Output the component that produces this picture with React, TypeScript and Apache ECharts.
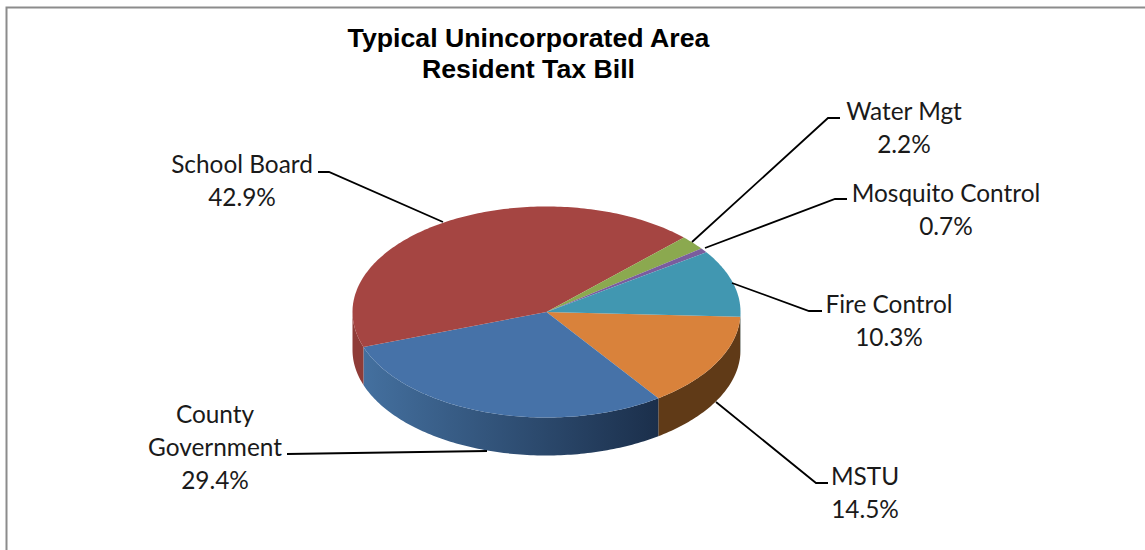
import React, { useEffect, useRef } from "react";
import * as echarts from "echarts";

const titleLines = ["Typical Unincorporated Area", "Resident Tax Bill"];
const categories = ["MSTU", "County Government", "School Board", "Water Mgt", "Mosquito Control", "Fire Control"];
const labelTexts = ["MSTU", "County\nGovernment", "School Board", "Water Mgt", "Mosquito Control", "Fire Control"];
const shares = [14.5, 29.4, 42.9, 2.2, 0.7, 10.3];

const topColors = ["#D9823B", "#4672A8", "#A54542", "#8BA94F", "#7A5D9E", "#4197B1"];
const sideStops = [
  ["#603A17", "#603A17"],
  ["#44709F", "#1B2F4B"],
  ["#8F3C38", "#8F3C38"],
  ["#5F7333", "#5F7333"],
  ["#533F6D", "#533F6D"],
  ["#2B6779", "#2B6779"],
];

const PIE = { cx: 546.5, cy: 312, rx: 194, ry: 105.5, depth: 38, startDeg: 2.6 };
const labelCentres = [[865, 492], [215, 446], [242, 180], [904, 127], [946, 209], [889, 320]];
const leaderLines = [
  [[828, 483], [816, 483], [716, 402]],
  [[287, 454], [487, 451]],
  [[318, 172], [329, 172], [443, 222]],
  [[840, 118], [828, 118], [692, 242]],
  [[847, 199], [835, 199], [705, 248]],
  [[822, 311], [809, 311], [732, 283]],
];
const FONT = "Lato";

const rimPoint = (deg: number, drop = 0) => {
  const t = (deg * Math.PI) / 180;
  return [PIE.cx + PIE.rx * Math.cos(t), PIE.cy + PIE.ry * Math.sin(t) + drop];
};
const arcPoints = (a: number, b: number, drop = 0) => {
  const pts: number[][] = [];
  const n = Math.max(2, Math.ceil(Math.abs(b - a)));
  for (let i = 0; i <= n; i++) pts.push(rimPoint(a + ((b - a) * i) / n, drop));
  return pts;
};
const sliceRange = (i: number) => {
  const total = shares.reduce((s, v) => s + v, 0);
  const before = shares.slice(0, i).reduce((s, v) => s + v, 0);
  const start = PIE.startDeg + (before / total) * 360;
  return [start, start + (shares[i] / total) * 360];
};

const renderSlice = (params: any) => {
  const i = params.dataIndex;
  const [start, end] = sliceRange(i);
  const children: any[] = [];
  [[0, 180], [360, 540]].forEach(([lo, hi]) => {
    const a = Math.max(start, lo);
    const b = Math.min(end, hi);
    if (b > a) {
      children.push({
        type: "polygon",
        shape: { points: [...arcPoints(a, b), ...arcPoints(b, a, PIE.depth)] },
        style: {
          fill: {
            type: "linear", x: 0, y: 0, x2: 1, y2: 0,
            colorStops: [
              { offset: 0, color: sideStops[i][0] },
              { offset: 1, color: sideStops[i][1] },
            ],
          },
        },
      });
    }
  });
  children.push({
    type: "polygon",
    shape: { points: [[PIE.cx, PIE.cy], ...arcPoints(start, end)] },
    style: { fill: topColors[i] },
  });
  return { type: "group", children };
};

const renderLabel = (params: any, api: any) => {
  const i = params.dataIndex;
  return {
    type: "group",
    children: [
      {
        type: "polyline",
        shape: { points: leaderLines[i] },
        style: { stroke: "#000", lineWidth: 1.8, fill: "none" },
      },
      {
        type: "text",
        x: labelCentres[i][0],
        y: labelCentres[i][1],
        style: {
          text: `${labelTexts[i]}\n${api.value(0).toFixed(1)}%`,
          fontFamily: FONT,
          fontSize: 24.4,
          lineHeight: 33,
          fill: "#1a1a1a",
          align: "center",
          verticalAlign: "middle",
        },
      },
    ],
  };
};

export default function App() {
  const ref = useRef<HTMLDivElement>(null);
  useEffect(() => {
    document.body.style.margin = "0";
    const chart = echarts.init(ref.current!, undefined, { renderer: "svg" });
    const data = shares.map((v, i) => ({ name: categories[i], value: v }));
    chart.setOption({
      animation: false,
      backgroundColor: "#fff",
      title: {
        text: titleLines.join("\n"),
        left: 523.5,
        top: 17.5,
        textAlign: "center",
        textStyle: { fontFamily: "Liberation Sans", fontWeight: "bold", fontSize: 26.7, lineHeight: 31, color: "#000" },
      },
      graphic: [
        {
          type: "polyline",
          shape: { points: [[1145, 7.5], [6.5, 7.5], [6.5, 550]] },
          style: { stroke: "#8C8C8C", lineWidth: 2, fill: "none" },
        },
      ],
      series: [
        { type: "custom", coordinateSystem: "none", renderItem: renderSlice, data, z: 2 },
        { type: "custom", coordinateSystem: "none", renderItem: renderLabel, data, z: 3 },
      ],
    });
    return () => chart.dispose();
  }, []);
  return <div ref={ref} style={{ width: 1145, height: 550 }} />;
}
